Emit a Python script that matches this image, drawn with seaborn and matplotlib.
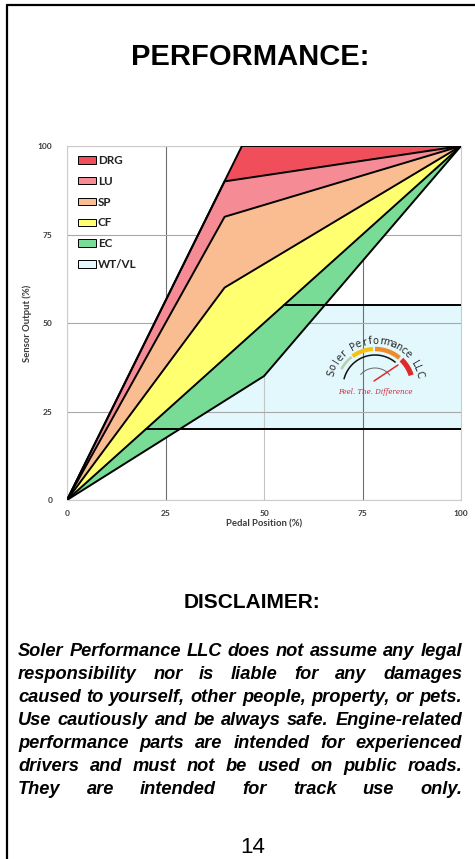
import numpy as np
import pandas as pd
import matplotlib
matplotlib.use("Agg")
import matplotlib.pyplot as plt
import seaborn as sns
from matplotlib.patches import Patch
from matplotlib.lines import Line2D

# ---- chart data ----
labels = ['DRG', 'LU', 'SP', 'CF', 'EC', 'WT/VL']
colors = ['#F04E5A', '#F58C95', '#F9BD91', '#FFFF70', '#78DC96', '#E3F8FC']

# boundary curves: pedal position (x) -> sensor output (y)
top_x = [0, 44.4, 100]
top_y = [0, 100, 100]
drg_lu_x = [0, 40, 100]
drg_lu_y = [0, 90, 100]
lu_sp_x = [0, 40, 100]
lu_sp_y = [0, 80, 100]
sp_cf_x = [0, 40, 100]
sp_cf_y = [0, 60, 100]
cf_ec_x = [0, 50, 100]
cf_ec_y = [0, 50, 100]
ec_low_x = [0, 50, 100]
ec_low_y = [0, 35, 100]

# WT/VL band limits
wt_low_x = [20, 100]
wt_low_y = [20, 20]
wt_high_x = [55, 100]
wt_high_y = [55, 55]

ticks = [0, 25, 50, 75, 100]

disclaimer_lines = [
    "Soler Performance LLC does not assume any legal",
    "responsibility nor is liable for any damages",
    "caused to yourself, other people, property, or pets.",
    "Use cautiously and be always safe. Engine-related",
    "performance parts are intended for experienced",
    "drivers and must not be used on public roads.",
    "They are intended for track use only.",
]

W, H = 475, 859
sns.set_theme(style="white")
plt.rcParams['font.family'] = ['Liberation Sans', 'DejaVu Sans']

fig = plt.figure(figsize=(W / 100, H / 100), dpi=100)


def fx(px):
    return px / W


def fy(py):
    return 1 - py / H


# page border (top and left)
fig.add_artist(Line2D([fx(7), 1], [fy(5), fy(5)], color='black', lw=1.6))
fig.add_artist(Line2D([fx(7), fx(7)], [fy(5), 0], color='black', lw=1.6))

fig.text(fx(250), fy(65), "PERFORMANCE:", ha='center', va='baseline',
         fontsize=21, fontweight='bold', color='black')

# ---- main chart ----
ax = fig.add_axes([fx(67), fy(500), 394 / W, 354 / H])

bands = [
    (top_x, top_y, drg_lu_x, drg_lu_y),
    (drg_lu_x, drg_lu_y, lu_sp_x, lu_sp_y),
    (lu_sp_x, lu_sp_y, sp_cf_x, sp_cf_y),
    (sp_cf_x, sp_cf_y, cf_ec_x, cf_ec_y),
    (cf_ec_x, cf_ec_y, ec_low_x, ec_low_y),
]

# WT/VL: between the two limits, right of the diagonal
wt_poly_x = wt_low_x + wt_high_x[::-1]
wt_poly_y = wt_low_y + wt_high_y[::-1]
ax.fill(wt_poly_x, wt_poly_y, color=colors[5], lw=0, zorder=1)

for (ux, uy, lx, ly), c in zip(bands, colors[:5]):
    ax.fill(ux + lx[::-1], uy + ly[::-1], color=c, lw=0, zorder=2)

curves = [(top_x, top_y), (drg_lu_x, drg_lu_y), (lu_sp_x, lu_sp_y),
          (sp_cf_x, sp_cf_y), (cf_ec_x, cf_ec_y), (ec_low_x, ec_low_y),
          (wt_low_x, wt_low_y), (wt_high_x, wt_high_y)]
for cx, cy in curves:
    df = pd.DataFrame({'pedal': cx, 'sensor': cy})
    sns.lineplot(data=df, x='pedal', y='sensor', color='black', lw=1.4,
                 sort=False, ax=ax, zorder=3)

ax.set_xlim(0, 100)
ax.set_ylim(0, 100)
ax.set_xticks(ticks)
ax.set_yticks(ticks)
ax.set_axisbelow('line')
ax.grid(True, lw=0.8)
for t, gl in zip(ticks, ax.get_xgridlines()):
    gl.set_color('#6e6e6e' if t in (25, 75) else '#c4c4c4')
for gl in ax.get_ygridlines():
    gl.set_color('#a8a8a8')
for sp in ax.spines.values():
    sp.set_color('#cccccc')
    sp.set_linewidth(0.8)

tick_font = dict(family='Lato', weight='bold', size=6)
ax.tick_params(axis='both', length=0, colors='#3a3a3a')
ax.tick_params(axis='y', pad=10.5)
ax.tick_params(axis='x', pad=7)
for lab in ax.get_xticklabels() + ax.get_yticklabels():
    lab.set_fontproperties(tick_font)

ax.set_xlabel('Pedal Position (%)', fontfamily='Lato', fontweight='bold',
              fontsize=6.8, color='#3a3a3a')
ax.set_ylabel('Sensor Output (%)', fontfamily='Lato', fontweight='bold',
              fontsize=6.8, color='#3a3a3a')
ax.xaxis.set_label_coords(0.5, -(519 - 500) / 354)
ax.yaxis.set_label_coords(-(67 - 32) / 394, 0.5)

handles = [Patch(facecolor=c, edgecolor='black', lw=0.7) for c in colors]
leg = ax.legend(handles, labels, loc='upper left',
                bbox_to_anchor=(11 / 394, 1 - 9 / 354), frameon=False,
                borderpad=0, borderaxespad=0, handlelength=1.5,
                handleheight=0.62, handletextpad=0.2, labelspacing=0.84,
                prop=dict(family='Lato', weight='bold', size=8.4))
for t in leg.get_texts():
    t.set_color('#222222')

# ---- logo (pixel space box) ----
lg = fig.add_axes([fx(318), fy(402), 120 / W, 75 / H])
lg.set_xlim(318, 438)
lg.set_ylim(402, 327)
lg.axis('off')
lg.patch.set_alpha(0)
cx0, cy0 = 375, 387


def arc(r, a0, a1, **kw):
    a = np.radians(np.linspace(a0, a1, 60))
    lg.plot(cx0 + r * np.cos(a), cy0 - r * np.sin(a), solid_capstyle='butt', **kw)


arc(38, 152, 128, color='#b9cfa8', lw=1.8)
arc(38, 126, 93, color='#f5c20f', lw=3.0)
arc(38, 90, 50, color='#ee8a2a', lw=3.2)
arc(38, 46, 18, color='#e02a2a', lw=3.8)
arc(32, 166, 50, color='#111111', lw=1.1)
arc(19, 140, 38, color='#666666', lw=0.7)
lg.plot([374, 398], [381, 365], color='#e02a2a', lw=1.1, solid_capstyle='round')

logo_txt = "Soler Performance LLC"
angs = np.linspace(162, 16, len(logo_txt))
for ch, a in zip(logo_txt, angs):
    r = 46
    lg.text(cx0 + r * np.cos(np.radians(a)), cy0 - r * np.sin(np.radians(a)), ch,
            rotation=a - 90, ha='center', va='center', fontsize=7,
            family='DejaVu Sans', color='#2a2a2a', rotation_mode='anchor')
lg.text(cx0, 392, "Feel. The. Difference", ha='center', va='center',
        fontsize=5, style='italic', color='#d0283c', family='DejaVu Serif')

# ---- disclaimer ----
fig.text(fx(252), fy(608), "DISCLAIMER:", ha='center', va='baseline',
         fontsize=15, fontweight='bold', color='black')

renderer = fig.canvas.get_renderer()
left, right = 18, 462
para_kw = dict(fontweight='bold', style='italic', color='black')

probe = fig.text(0, 0, disclaimer_lines[0], fontsize=10, **para_kw)
base_w = probe.get_window_extent(renderer).width
probe.remove()
psize = 10 * (right - left) / base_w * 0.995

for i, line in enumerate(disclaimer_lines):
    words = line.split()
    objs = [fig.text(0, fy(656 + 23 * i), w, fontsize=psize, va='baseline',
                     ha='left', **para_kw) for w in words]
    widths = [o.get_window_extent(renderer).width for o in objs]
    gap = (right - left - sum(widths)) / (len(words) - 1)
    xpos = left
    for o, w in zip(objs, widths):
        o.set_x(fx(xpos))
        xpos += w + gap

fig.text(fx(253), fy(853), "14", ha='center', va='baseline', fontsize=16,
         color='black')

fig.savefig('out.png', dpi=100)
